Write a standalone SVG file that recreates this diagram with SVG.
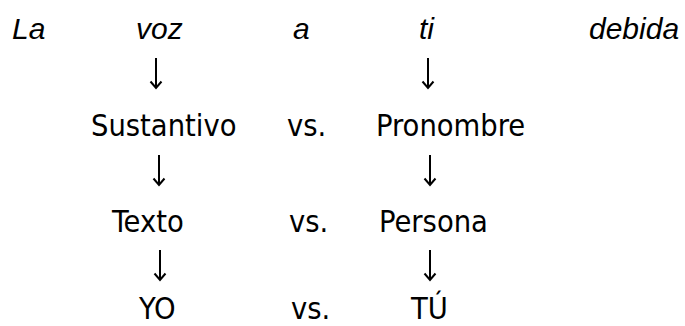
<svg xmlns="http://www.w3.org/2000/svg" width="685" height="326" viewBox="0 0 685 326">
  <style>
    .it { font-family: "Liberation Sans", Arial, sans-serif; font-style: italic; font-size: 30px; fill: #000; }
    .tx { font-family: "DejaVu Sans Condensed", "DejaVu Sans", sans-serif; font-stretch: condensed; font-size: 30.5px; fill: #000; }
    .arrow { fill: none; stroke: #000; stroke-width: 2; }
    .head { fill: none; stroke: #000; stroke-width: 2; stroke-linejoin: miter; }
  </style>
  <defs>
    <!-- one down arrow, 31px tall, tip at (0,31) -->
    <g id="down">
      <line class="arrow" x1="0" y1="0" x2="0" y2="30"/>
      <polyline class="head" points="-5.5,23.5 0,30 5.5,23.5"/>
    </g>
  </defs>
  <rect width="685" height="326" fill="#fff"/>

  <!-- verse line -->
  <g id="verse">
    <text class="it" x="12" y="39">La</text>
    <text class="it" x="136" y="39">voz</text>
    <text class="it" x="293" y="39">a</text>
    <text class="it" x="419" y="39">ti</text>
    <text class="it" x="589" y="39">debida</text>
  </g>

  <!-- first opposition -->
  <g id="sustantivo"><text class="tx" x="91" y="136">Sustantivo</text></g>
  <g id="vs1"><text class="tx" x="287" y="136">vs.</text></g>
  <g id="pronombre"><text class="tx" x="376" y="136">Pronombre</text></g>

  <!-- second opposition -->
  <g id="texto"><text class="tx" x="112" y="232">Texto</text></g>
  <g id="vs2"><text class="tx" x="289" y="232">vs.</text></g>
  <g id="persona"><text class="tx" x="379" y="232">Persona</text></g>

  <!-- third opposition -->
  <g id="yo"><text class="tx" x="139" y="319">YO</text></g>
  <g id="vs3"><text class="tx" x="291" y="319">vs.</text></g>
  <g id="tu"><text class="tx" x="411" y="319">TÚ</text></g>

  <!-- downward arrows between rows -->
  <g id="connectors">
    <use href="#down" x="156" y="58"/>
    <use href="#down" x="428" y="58"/>
    <use href="#down" x="159" y="155"/>
    <use href="#down" x="430" y="155"/>
    <use href="#down" x="160" y="250"/>
    <use href="#down" x="430" y="250"/>
  </g>
</svg>
